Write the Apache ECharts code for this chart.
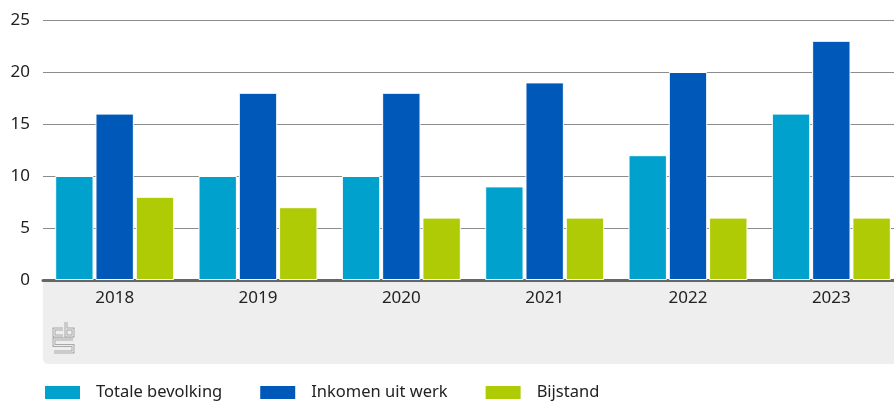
<!DOCTYPE html>
<html>
<head>
<meta charset="utf-8">
<script src="https://cdn.jsdelivr.net/npm/echarts@6/dist/echarts.min.js"></script>
<style>
  html, body { margin: 0; padding: 0; background: #fff; }
  #chart { width: 894px; height: 403px; }
</style>
</head>
<body>
<div id="chart"></div>
<script>
var years = ["2018", "2019", "2020", "2021", "2022", "2023"];
var totaleBevolking = [10, 10, 10, 9, 12, 16];
var inkomenUitWerk = [16, 18, 18, 19, 20, 23];
var bijstand = [8, 7, 6, 6, 6, 6];

var font = "Noto Sans";
var chart = echarts.init(document.getElementById("chart"));

function barSeries(name, data, color) {
  return {
    name: name,
    type: "bar",
    data: data,
    barCategoryGap: "17%",
    barGap: "5%",
    itemStyle: { color: color, borderColor: "#fff", borderWidth: 1 },
    emphasis: { disabled: true }
  };
}

// cbs logo strokes, drawn twice (dark then light) for the outlined look
var logoPaths = [
  [[63, 329], [54, 329], [54, 336], [63, 336]],
  [[66, 322], [66, 336], [73, 336], [73, 329], [66, 329]],
  [[73, 339], [54, 339], [54, 345.5], [73, 345.5], [73, 352], [54, 352]]
];
var graphics = [
  {
    type: "rect",
    z: -10,
    shape: { x: 43, y: 281, width: 851, height: 83, r: [0, 0, 0, 5] },
    style: { fill: "#eeeeee" }
  }
];
logoPaths.forEach(function(p) {
  graphics.push({ type: "polyline", z: 5, shape: { points: p },
    style: { stroke: "#a8a8a8", lineWidth: 3, fill: null } });
  graphics.push({ type: "polyline", z: 6, shape: { points: p },
    style: { stroke: "#eeeeee", lineWidth: 1, fill: null } });
});

var option = {
  animation: false,
  textStyle: { fontFamily: font },
  grid: { left: 43, width: 860, top: 20, bottom: 123, outerBoundsMode: "none" },
  xAxis: {
    type: "category",
    data: years,
    axisLine: { lineStyle: { color: "#666", width: 3 } },
    axisTick: { show: false },
    axisLabel: { color: "#222", fontSize: 17, margin: 10 }
  },
  yAxis: {
    type: "value",
    min: 0,
    max: 25,
    interval: 5,
    axisLine: { show: false },
    axisTick: { show: false },
    axisLabel: { color: "#222", fontSize: 17, margin: 13 },
    splitLine: { lineStyle: { color: "#8c8c8c", width: 1 } }
  },
  legend: {
    left: 43,
    top: 384,
    padding: 0,
    itemWidth: 37,
    itemHeight: 15,
    itemGap: 36,
    icon: "rect",
    selectedMode: false,
    textStyle: { color: "#222", fontSize: 16.5, padding: [0, 0, 0, 10] },
    data: ["Totale bevolking", "Inkomen uit werk", "Bijstand"]
  },
  graphic: graphics,
  series: [
    barSeries("Totale bevolking", totaleBevolking, "#00a1cd"),
    barSeries("Inkomen uit werk", inkomenUitWerk, "#0058b8"),
    barSeries("Bijstand", bijstand, "#afcb05")
  ]
};
chart.setOption(option);
</script>
</body>
</html>
